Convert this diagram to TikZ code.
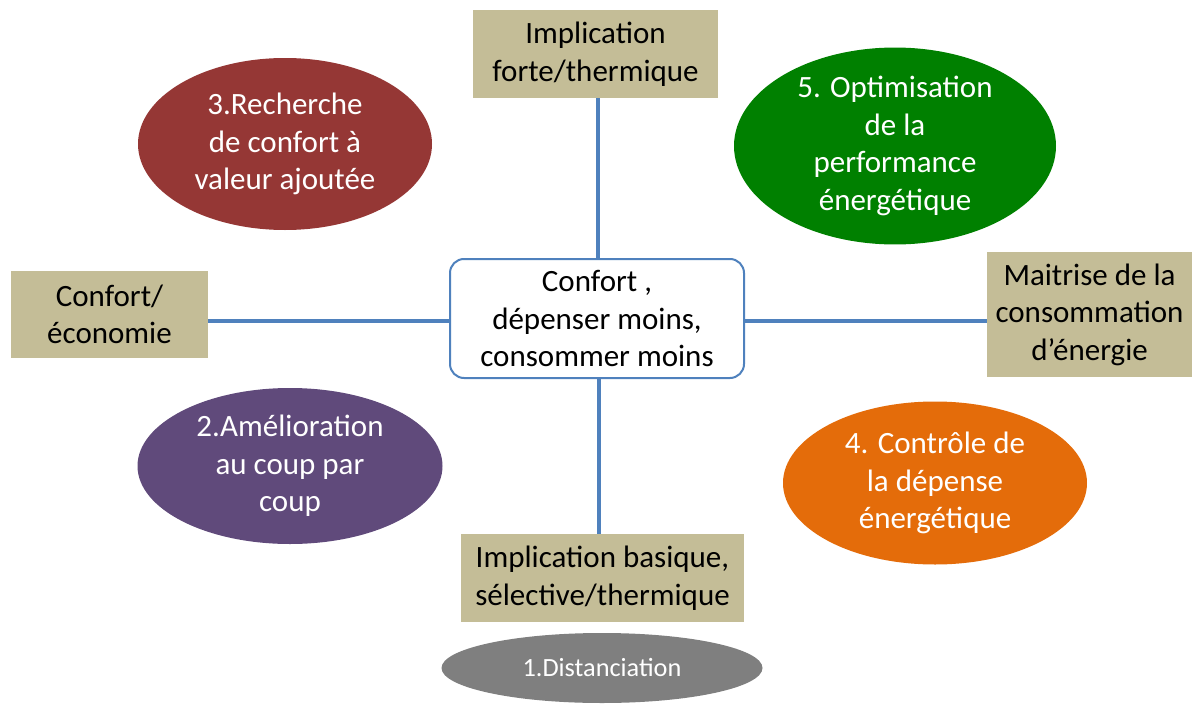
\documentclass[tikz,border=0pt]{standalone}
\usepackage{fontspec}
\setmainfont{Carlito}
\usetikzlibrary{shapes.geometric}
\definecolor{tanc}{HTML}{C4BD97}
\definecolor{linec}{HTML}{4F81BD}
\definecolor{redc}{HTML}{953735}
\definecolor{greenc}{HTML}{008000}
\definecolor{purplec}{HTML}{604A7B}
\definecolor{orangec}{HTML}{E46C0A}
\definecolor{grayc}{HTML}{7F7F7F}
\begin{document}
\begin{tikzpicture}[x=1pt,y=-1pt,
  box/.style={rectangle, fill=tanc, draw=none, inner sep=0pt, align=center,
    font=\fontsize{31}{37.5}\selectfont},
  oval/.style={ellipse, draw=none, inner sep=0pt, align=center, text=white,
    font=\fontsize{31}{37.5}\selectfont},
  hub/.style={rectangle, rounded corners=14pt, draw=linec, line width=2pt, fill=white,
    inner sep=0pt, align=center, font=\fontsize{31}{37.5}\selectfont},
  link/.style={draw=linec, line width=4pt}]
\useasboundingbox (0,0) rectangle (1195,704);
% ellipses
\node[oval, fill=redc, minimum width=294pt, minimum height=172pt] (red) at (285,144)
  {3.Recherche\\de confort à\\valeur ajoutée};
\node[oval, fill=greenc, minimum width=322pt, minimum height=180pt] (green) at (895,146)
  {5. Optimisation\\de la\\performance\\énergétique};
\node[oval, fill=purplec, minimum width=305pt, minimum height=156pt] (purple) at (290,466)
  {2.Amélioration\\au coup par\\coup};
\node[oval, fill=orangec, minimum width=304pt, minimum height=163pt] (orange) at (935,483)
  {4. Contrôle de\\la dépense\\énergétique};
\node[oval, fill=grayc, minimum width=321pt, minimum height=70pt,
  font=\fontsize{26.3}{32}\selectfont] (gray) at (602,668) {1.Distanciation};
% boxes
\node[box, minimum width=245pt, minimum height=88pt] (top) at (595.5,54)
  {Implication\\forte/thermique};
\node[box, minimum width=197pt, minimum height=87pt] (left) at (109.5,314.5)
  {Confort/\\économie};
\node[box, minimum width=205pt, minimum height=125pt] (right) at (1089.5,314.5)
  {Maitrise de la\\consommation\\d’énergie};
\node[box, minimum width=283pt, minimum height=88pt] (bot) at (602.5,578)
  {Implication basique,\\sélective/thermique};
% hub
\node[hub, minimum width=294pt, minimum height=119pt] (c) at (597,318.5)
  {Confort ,\\dépenser moins,\\consommer moins};
% connectors
\coordinate (ct) at ([xshift=1pt]c.north);
\coordinate (cb) at ([xshift=2pt]c.south);
\coordinate (cl) at ([yshift=-2.5pt]c.west);
\coordinate (cr) at ([yshift=-2.5pt]c.east);
\draw[link] (ct) -- (ct |- top.south);
\draw[link] (cb) -- (cb |- bot.north);
\draw[link] (cl) -- (cl -| left.east);
\draw[link] (cr) -- (cr -| right.west);
\end{tikzpicture}
\end{document}
